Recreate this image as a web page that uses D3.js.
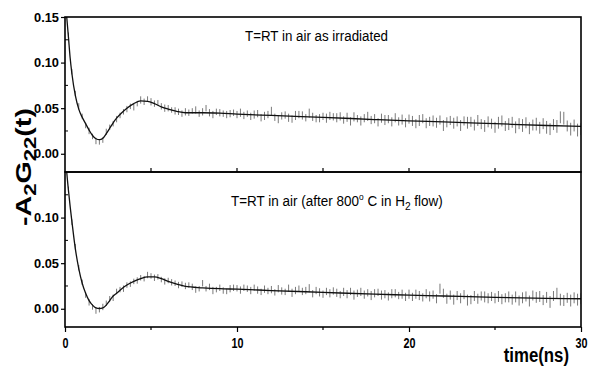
<!DOCTYPE html>
<html>
<head>
<meta charset="utf-8">
<script src="https://cdn.jsdelivr.net/npm/d3@7"></script>
<style>
  html, body { margin: 0; padding: 0; background: #fff; }
  svg { display: block; }
  text { font-family: "Liberation Sans", Arial, sans-serif; fill: #000; }
</style>
</head>
<body>
<svg id="chart" width="596" height="371"></svg>
<script>
// ---------------- DATA ----------------
// time channels (ns), 0.2 ns spacing
const timeNs = d3.range(151).map(i => +(i * 0.2).toFixed(1));

// Top panel: T=RT in air as irradiated
const topValues = [
  0.165,0.130,0.090,0.066,0.052,0.041,0.031,0.025,0.019,0.014,
  0.013,0.015,0.024,0.029,0.033,0.038,0.042,0.046,0.049,0.052,
  0.051,0.055,0.059,0.057,0.060,0.057,0.055,0.056,0.052,0.050,
  0.050,0.048,0.047,0.046,0.044,0.046,0.045,0.047,0.048,0.044,
  0.046,0.050,0.045,0.043,0.046,0.045,0.044,0.043,0.044,0.045,
  0.043,0.045,0.042,0.044,0.041,0.043,0.044,0.0395,0.0415,0.043,
  0.047,0.040,0.038,0.0415,0.0425,0.0395,0.038,0.042,0.043,0.042,
  0.0395,0.0445,0.0405,0.0385,0.039,0.041,0.039,0.0415,0.0405,0.0395,
  0.041,0.037,0.040,0.0355,0.0405,0.0385,0.036,0.039,0.041,0.037,
  0.0385,0.0345,0.039,0.037,0.038,0.035,0.0395,0.0355,0.0375,0.034,
  0.038,0.036,0.033,0.0365,0.0385,0.0335,0.0355,0.036,0.034,0.037,
  0.031,0.0345,0.0365,0.0335,0.0355,0.031,0.036,0.034,0.035,0.0315,
  0.0365,0.0325,0.0305,0.035,0.033,0.029,0.034,0.036,0.0305,0.0325,
  0.0345,0.029,0.033,0.031,0.034,0.028,0.0315,0.0325,0.0285,0.033,
  0.029,0.027,0.032,0.030,0.040,0.039,0.0305,0.027,0.031,0.026,0.027
];
const topErrors = [
  0.003,0.003,0.003,0.003,0.0035,0.003,0.003,0.0035,0.003,0.0035,
  0.003,0.003,0.0035,0.003,0.003,0.0035,0.003,0.003,0.0035,0.003,
  0.0035,0.003,0.004,0.0035,0.003,0.004,0.0035,0.003,0.0035,0.004,
  0.0035,0.003,0.004,0.0035,0.0035,0.004,0.0035,0.003,0.004,0.0035,
  0.004,0.0035,0.004,0.004,0.0035,0.004,0.0035,0.004,0.004,0.0035,
  0.004,0.0045,0.004,0.0035,0.004,0.0045,0.004,0.004,0.0045,0.004,
  0.0045,0.004,0.0045,0.004,0.004,0.0045,0.004,0.005,0.004,0.0045,
  0.004,0.005,0.0045,0.004,0.0045,0.004,0.005,0.0045,0.004,0.005,
  0.0045,0.004,0.005,0.0045,0.005,0.004,0.005,0.0045,0.005,0.0045,
  0.005,0.0045,0.005,0.0055,0.0045,0.005,0.005,0.0045,0.0055,0.005,
  0.005,0.0055,0.005,0.006,0.005,0.0055,0.005,0.006,0.0055,0.005,
  0.006,0.0055,0.005,0.006,0.0055,0.006,0.005,0.0065,0.0055,0.006,
  0.006,0.0055,0.0065,0.006,0.0055,0.006,0.0065,0.006,0.0055,0.0065,
  0.006,0.0065,0.006,0.007,0.006,0.0065,0.006,0.007,0.0065,0.006,
  0.007,0.0065,0.006,0.007,0.0065,0.007,0.006,0.007,0.0065,0.007,0.0065
];

// Bottom panel: T=RT in air (after 800 C in H2 flow)
const bottomValues = [
  0.170,0.131,0.095,0.068,0.045,0.029,0.015,0.007,0.002,-0.002,
  -0.001,0.002,0.006,0.011,0.012,0.019,0.021,0.022,0.026,0.027,
  0.030,0.031,0.034,0.033,0.037,0.036,0.034,0.035,0.032,0.030,
  0.031,0.029,0.028,0.026,0.027,0.025,0.026,0.024,0.021,0.022,
  0.028,0.022,0.024,0.020,0.021,0.023,0.020,0.019,0.022,0.023,
  0.0225,0.0205,0.023,0.022,0.020,0.023,0.0205,0.0185,0.0215,0.0195,
  0.021,0.018,0.022,0.0195,0.0185,0.0225,0.0175,0.020,0.022,0.019,
  0.020,0.0225,0.0165,0.020,0.018,0.016,0.019,0.017,0.0195,0.0175,
  0.0155,0.0185,0.016,0.019,0.015,0.017,0.0185,0.0155,0.0175,0.0145,
  0.017,0.018,0.015,0.016,0.0135,0.0165,0.017,0.0145,0.016,0.013,
  0.016,0.013,0.016,0.0145,0.0125,0.0165,0.0135,0.0155,0.011,0.022,
  0.017,0.011,0.015,0.010,0.0145,0.0115,0.0155,0.0095,0.010,0.014,
  0.011,0.014,0.013,0.0115,0.0135,0.0115,0.0135,0.0105,0.012,0.013,
  0.010,0.013,0.009,0.012,0.0135,0.0085,0.0145,0.0125,0.0135,0.0095,
  0.0125,0.0075,0.014,0.017,0.010,0.009,0.012,0.009,0.012,0.010,0.011
];
const bottomErrors = [
  0.003,0.003,0.003,0.003,0.003,0.003,0.003,0.0035,0.003,0.0035,
  0.003,0.0035,0.003,0.003,0.0035,0.003,0.003,0.0035,0.003,0.003,
  0.003,0.0035,0.003,0.003,0.0035,0.003,0.0035,0.003,0.003,0.0035,
  0.003,0.0035,0.003,0.0035,0.003,0.0035,0.003,0.0035,0.0035,0.003,
  0.0035,0.003,0.0035,0.004,0.003,0.0035,0.0035,0.003,0.004,0.0035,
  0.0035,0.004,0.0035,0.0035,0.004,0.0035,0.004,0.0035,0.004,0.0035,
  0.004,0.0035,0.004,0.004,0.0035,0.004,0.0045,0.004,0.0035,0.004,
  0.004,0.0045,0.004,0.004,0.0045,0.004,0.004,0.0045,0.004,0.0045,
  0.004,0.0045,0.0045,0.004,0.005,0.004,0.0045,0.0045,0.004,0.005,
  0.0045,0.004,0.005,0.0045,0.0045,0.005,0.0045,0.004,0.005,0.0045,
  0.005,0.0045,0.005,0.005,0.0045,0.005,0.0055,0.0045,0.005,0.0055,
  0.005,0.0055,0.005,0.0055,0.005,0.0055,0.005,0.006,0.005,0.0055,
  0.0055,0.005,0.006,0.0055,0.005,0.0055,0.006,0.0055,0.005,0.006,
  0.0055,0.006,0.0055,0.006,0.0055,0.006,0.0055,0.006,0.006,0.0055,
  0.006,0.0065,0.0055,0.006,0.0065,0.006,0.0055,0.0065,0.006,0.0065,0.006
];

// Fitted curves
const fitTime   = [0,0.1,0.2,0.3,0.4,0.6,0.8,1.0,1.2,1.4,1.6,1.8,2.0,2.2,2.4,2.6,2.8,3.0,3.3,3.6,4.0,4.4,4.8,5.2,5.6,6.0,6.5,7.0,8,9,10,12,15,18,20,22,25,28,30];
const fitTop    = [0.175,0.150,0.128,0.105,0.088,0.064,0.049,0.040,0.033,0.026,0.020,0.0165,0.0155,0.017,0.022,0.028,0.034,0.039,0.045,0.050,0.055,0.058,0.0575,0.055,0.0515,0.049,0.0465,0.045,0.045,0.0445,0.0435,0.042,0.040,0.0375,0.036,0.035,0.033,0.031,0.030];
const fitBottom = [0.175,0.150,0.130,0.112,0.096,0.066,0.044,0.028,0.017,0.009,0.004,0.001,0.0003,0.001,0.004,0.009,0.014,0.017,0.022,0.026,0.030,0.033,0.035,0.035,0.033,0.030,0.027,0.0245,0.023,0.022,0.0215,0.020,0.018,0.016,0.015,0.014,0.0125,0.0115,0.011];

const xTicksMajor = [0, 10, 20, 30];
const xTicksMinor = [5, 15, 25];
const yTicksTop = [0.00, 0.05, 0.10, 0.15];
const yTicksBottom = [0.00, 0.05, 0.10];
const yTicksMinor = [0.025, 0.075, 0.125];

// ---------------- DRAW ----------------
const svg = d3.select("#chart");
svg.append("rect").attr("width", 596).attr("height", 371).attr("fill", "#fff");

const left = 65, right = 581;
const x = d3.scaleLinear().domain([0, 30]).range([left, right]);
const yTop = d3.scaleLinear().domain([-0.02, 0.15]).range([172, 17]);
const yBot = d3.scaleLinear().domain([-0.02, 0.15]).range([327, 172]);

const defs = svg.append("defs");
function panel(id, y, values, errors, fit, isBottom) {
  const [y1, y0] = y.range();
  defs.append("clipPath").attr("id", id)
    .append("rect").attr("x", left).attr("y", y0).attr("width", right - left).attr("height", y1 - y0);
  const g = svg.append("g").attr("clip-path", `url(#${id})`);
  // error bars
  g.append("g").selectAll("line").data(timeNs.map((t, i) => ({t, v: values[i], e: errors[i]})))
    .join("line")
    .attr("x1", d => x(d.t)).attr("x2", d => x(d.t))
    .attr("y1", d => y(d.v - d.e)).attr("y2", d => y(d.v + d.e))
    .attr("stroke", "#7a7a7a").attr("stroke-width", 1);
  // fit
  const line = d3.line().x(d => x(d[0])).y(d => y(d[1])).curve(d3.curveMonotoneX);
  g.append("path").datum(fitTime.map((t, i) => [t, fit[i]]))
    .attr("d", line).attr("fill", "none").attr("stroke", "#111").attr("stroke-width", 1.3);

  // frame
  svg.append("rect").attr("x", left).attr("y", y0).attr("width", right - left).attr("height", y1 - y0)
    .attr("fill", "none").attr("stroke", "#000").attr("stroke-width", 1.6);

  // y axis ticks
  const yAx = d3.axisLeft(y).tickValues(isBottom ? yTicksBottom : yTicksTop)
    .tickFormat(d3.format(".2f")).tickSize(4).tickPadding(2);
  const ga = svg.append("g").attr("transform", `translate(${left},0)`).call(yAx);
  ga.select(".domain").remove();
  ga.selectAll("line").attr("stroke-width", 1.2);
  ga.selectAll("text").attr("font-size", 13).attr("font-weight", "bold")
    .attr("textLength", 25).attr("lengthAdjust", "spacingAndGlyphs");
  svg.append("g").selectAll("line").data(yTicksMinor)
    .join("line").attr("x1", left).attr("x2", left + 3)
    .attr("y1", d => y(d)).attr("y2", d => y(d)).attr("stroke", "#000").attr("stroke-width", 1);
}

panel("clipTop", yTop, topValues, topErrors, fitTop, false);
panel("clipBot", yBot, bottomValues, bottomErrors, fitBottom, true);

// x ticks on shared line (pointing up into top panel)
svg.append("g").selectAll("line").data(xTicksMajor.concat(xTicksMinor).filter(v => v > 0 && v < 30))
  .join("line").attr("x1", d => x(d)).attr("x2", d => x(d))
  .attr("y1", 172).attr("y2", 168).attr("stroke", "#000").attr("stroke-width", 1.2);

// bottom x axis
const xAx = d3.axisBottom(x).tickValues(xTicksMajor).tickFormat(d3.format("d")).tickSize(5).tickPadding(5);
const gx = svg.append("g").attr("transform", "translate(0,327)").call(xAx);
gx.select(".domain").remove();
gx.selectAll("line").attr("stroke-width", 1.2);
gx.selectAll("text").attr("font-size", 15).attr("font-weight", "bold")
  .attr("textLength", d => String(d).length * 6)
  .attr("lengthAdjust", "spacingAndGlyphs");
svg.append("g").selectAll("line").data(xTicksMinor)
  .join("line").attr("x1", d => x(d)).attr("x2", d => x(d))
  .attr("y1", 327).attr("y2", 330).attr("stroke", "#000").attr("stroke-width", 1.2);

// titles
svg.append("text").attr("x", 245).attr("y", 41).attr("font-size", 14)
  .attr("textLength", 143).attr("lengthAdjust", "spacingAndGlyphs")
  .text("T=RT in air as irradiated");

const t2 = svg.append("g").attr("transform", "translate(231,206) scale(0.93,1)")
  .append("text").attr("x", 0).attr("y", 0).attr("font-size", 14.5);
t2.append("tspan").text("T=RT in air (after 800");
t2.append("tspan").attr("dy", -6).attr("font-size", 9).text("o");
t2.append("tspan").attr("dy", 6).text(" C in H");
t2.append("tspan").attr("dy", 4).attr("font-size", 11).text("2");
t2.append("tspan").attr("dy", -4).text(" flow)");

// axis titles
const yl = svg.append("g").attr("transform", "translate(31,167) rotate(-90) scale(1.3,1)")
  .append("text").attr("text-anchor", "middle").attr("font-size", 22).attr("font-weight", "bold");
yl.append("tspan").text("-A");
yl.append("tspan").attr("dy", 5).attr("font-size", 17).text("2");
yl.append("tspan").attr("dy", -5).text("G");
yl.append("tspan").attr("dy", 5).attr("font-size", 17).text("22");
yl.append("tspan").attr("dy", -5).text("(t)");

svg.append("g").attr("transform", "translate(569,362) scale(0.8,1)")
  .append("text").attr("text-anchor", "end")
  .attr("font-size", 21).attr("font-weight", "bold")
  .text("time(ns)");
</script>
</body>
</html>
